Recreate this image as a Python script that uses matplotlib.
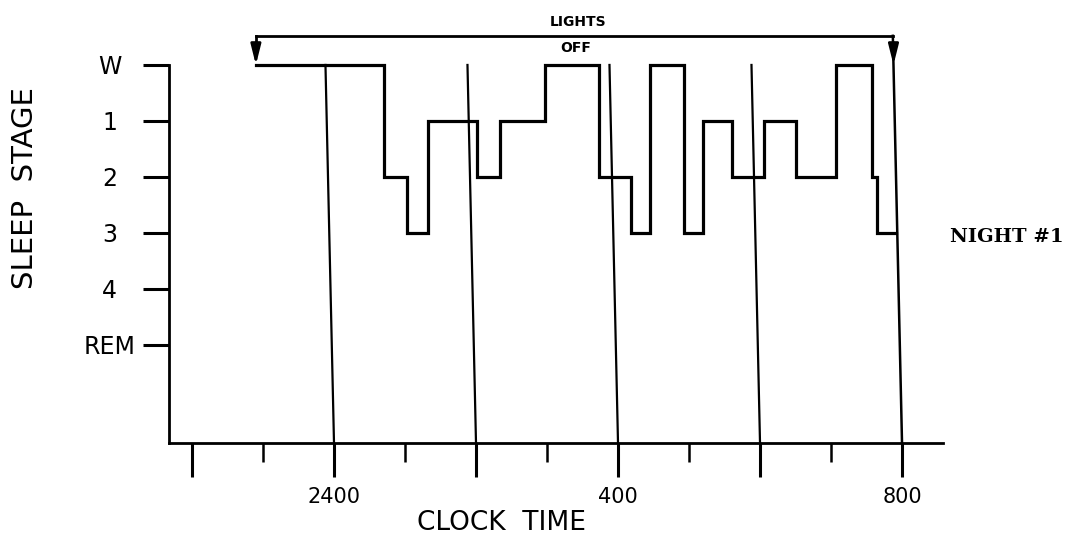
import matplotlib.pyplot as plt
from matplotlib.ticker import FixedLocator, FixedFormatter

# hypnogram, night 1 (clock hours, 24 = midnight, 32 = 08:00)
change_times = [22.90, 24.70, 25.03, 25.32, 26.01, 26.34, 26.97, 27.73, 28.18, 28.45,
                28.93, 29.20, 29.61, 30.06, 30.51, 31.07, 31.58, 31.65, 31.92]
stage_values = [0, 2, 3, 1, 2, 1, 0, 2, 3, 0, 3, 1, 2, 1, 2, 0, 2, 3, 3]

stage_ticks = [0, 1, 2, 3, 4, 5]
stage_labels = ['W', '1', '2', '3', '4', 'REM']

hour_major = [22, 24, 26, 28, 30, 32]
hour_major_labels = ['', '2400', '', '400', '', '800']
hour_minor = [23, 25, 27, 29, 31]

hour_lines = [24, 26, 28, 30]
lights_off = 22.90
lights_on_line = 32

fig = plt.figure(figsize=(10.75, 5.36), dpi=100)
ax = fig.add_axes([0.1572, 0.1735, 0.72, 0.8265])

x_lo, x_hi = 21.676, 32.577
y_bottom, y_top = 6.75, -1.16
arrow_y = -0.52
slant = 0.0178  # hand-drawn lines lean left going up

ax.set_xlim(x_lo, x_hi)
ax.set_ylim(y_bottom, y_top)

# sleep stage trace
ax.plot(change_times, stage_values, drawstyle='steps-post', color='black', lw=2.3,
        solid_joinstyle='miter')

# hourly verticals
for h in hour_lines:
    ax.plot([h, h - slant * y_bottom], [y_bottom, 0], color='black', lw=1.6)
top_x = lights_on_line - slant * (y_bottom - arrow_y)
ax.plot([lights_on_line, top_x], [y_bottom, arrow_y], color='black', lw=1.8)

# lights off bracket
ax.plot([lights_off, top_x], [arrow_y, arrow_y], color='black', lw=2)
ax.plot([lights_off, lights_off], [arrow_y, -0.3], color='black', lw=2)
for xa in (lights_off, top_x + slant * 0.52):
    ax.annotate('', xy=(xa, 0.0), xytext=(xa, -0.4),
                arrowprops=dict(arrowstyle='-|>,head_length=1.2,head_width=0.3',
                                color='black', lw=2, shrinkA=0, shrinkB=0))
ax.text(27.44, -0.77, 'LIGHTS', ha='center', va='center', fontsize=10, fontweight='bold')
ax.text(27.41, -0.30, 'OFF', ha='center', va='center', fontsize=10, fontweight='bold')

# axes
for s in ('top', 'right'):
    ax.spines[s].set_visible(False)
ax.spines['left'].set_linewidth(2)
ax.spines['bottom'].set_linewidth(2)
ax.spines['left'].set_bounds(0, y_bottom)

ax.yaxis.set_major_locator(FixedLocator(stage_ticks))
ax.yaxis.set_major_formatter(FixedFormatter(stage_labels))
ax.tick_params(axis='y', direction='out', length=18.7, width=2.2, pad=24, labelsize=17)
for lab in ax.get_yticklabels():
    lab.set_ha('center')

ax.xaxis.set_major_locator(FixedLocator(hour_major))
ax.xaxis.set_major_formatter(FixedFormatter(hour_major_labels))
ax.xaxis.set_minor_locator(FixedLocator(hour_minor))
ax.tick_params(axis='x', which='major', direction='out', length=24.5, width=2.2, pad=7,
               labelsize=15)
ax.tick_params(axis='x', which='minor', direction='out', length=13.7, width=1.8)

fig.text(25 / 1075, 1 - 188 / 536, 'SLEEP  STAGE', rotation=90, ha='center', va='center',
         fontsize=21)
fig.text(501 / 1075, 1 - 523 / 536, 'CLOCK  TIME', ha='center', va='center', fontsize=19)
fig.text(950 / 1075, 1 - 237 / 536, 'NIGHT #1', ha='left', va='center', fontsize=14,
         family='DejaVu Serif', fontweight='bold')

fig.savefig('out.png', dpi=100)
